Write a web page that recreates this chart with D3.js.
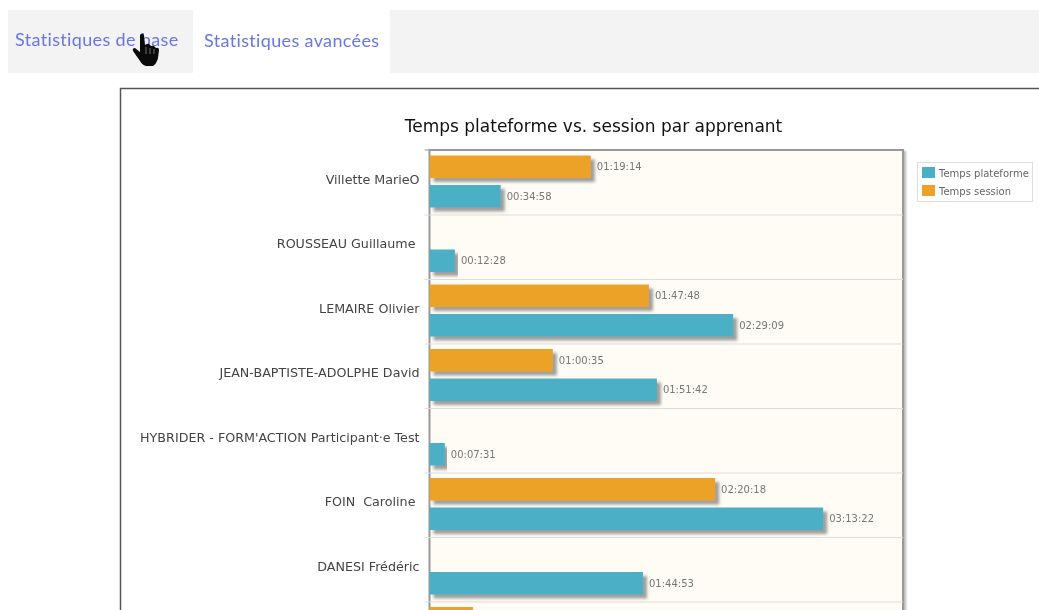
<!DOCTYPE html>
<html>
<head>
<meta charset="utf-8">
<script src="https://cdn.jsdelivr.net/npm/d3@7"></script>
<style>
html, body { margin: 0; padding: 0; background: #fff; overflow: hidden; }
svg { display: block; filter: blur(0.45px); }
text { font-family: "DejaVu Sans", sans-serif; }
.tab { font-family: Lato, sans-serif; font-size: 18px; fill: #6a75e6; letter-spacing: 0.35px; }
.name text { white-space: pre; }
</style>
</head>
<body>
<svg width="1039" height="610"></svg>
<script>
var categories = ["Villette MarieO", "ROUSSEAU Guillaume ", "LEMAIRE Olivier", "JEAN-BAPTISTE-ADOLPHE David",
    "HYBRIDER - FORM'ACTION Participant·e Test", "FOIN  Caroline ", "DANESI Frédéric", ""];
var tempsPlateforme = ["00:34:58", "00:12:28", "02:29:09", "01:51:42", "00:07:31", "03:13:22", "01:44:53", null];
var tempsSession = ["01:19:14", null, "01:47:48", "01:00:35", null, "02:20:18", null, "00:21:20"];
var seriesNames = ["Temps session", "Temps plateforme"];
var seriesColors = ["#eba228", "#4bafc6"];
var legendOrder = ["Temps plateforme", "Temps session"];
var tabLabels = ["Statistiques de base", "Statistiques avancées"];

function seconds(s) {
    var p = s.split(":");
    return +p[0] * 3600 + +p[1] * 60 + +p[2];
}

var svg = d3.select("svg");

var defs = svg.append("defs");
var shadow = defs.append("filter").attr("id", "barShadow")
    .attr("x", "-5%").attr("y", "-20%").attr("width", "115%").attr("height", "170%");
shadow.append("feDropShadow").attr("dx", 4).attr("dy", 4).attr("stdDeviation", 1.8)
    .attr("flood-color", "#777").attr("flood-opacity", 0.7);
var soft = defs.append("filter").attr("id", "plotShadow")
    .attr("x", "-2%").attr("y", "-2%").attr("width", "104%").attr("height", "104%");
soft.append("feDropShadow").attr("dx", 2).attr("dy", 2).attr("stdDeviation", 1)
    .attr("flood-color", "#888").attr("flood-opacity", 0.6);

// tabs
svg.append("rect").attr("x", 8).attr("y", 10).attr("width", 1031).attr("height", 63).attr("fill", "#f3f3f3");
svg.append("rect").attr("x", 193).attr("y", 10).attr("width", 197).attr("height", 63).attr("fill", "#fff");
svg.selectAll(".tab").data(tabLabels).enter().append("text")
    .attr("class", "tab")
    .attr("x", function(d, i) { return i ? 204 : 15; })
    .attr("y", function(d, i) { return i ? 47 : 46; })
    .text(function(d) { return d; });

// hand cursor
var hand = svg.append("g").attr("transform", "translate(132,32)");
hand.append("path").attr("fill", "#0a0a0a")
    .attr("d", "M8 3 Q10 0 12 3 L13 13 L15 12 Q17 11 18 13 L19 14 Q22 13 23 15 L24 16 Q27 15 27 18 L26 26 Q25 31 21 34 L14 34 Q10 33 8 29 L1 19 Q0 16 3 16 L8 20 Z");
hand.append("path").attr("stroke", "#888").attr("stroke-width", 0.8).attr("fill", "none")
    .attr("d", "M14 15V22M18 16V22M22 17V22");

// chart frame
svg.append("rect").attr("x", 120.5).attr("y", 88.5).attr("width", 1000).attr("height", 700)
    .attr("fill", "#fff").attr("stroke", "#555").attr("stroke-width", 1.5);

svg.append("text").attr("x", 593.5).attr("y", 132).attr("text-anchor", "middle")
    .attr("font-size", 17).attr("fill", "#111")
    .text("Temps plateforme vs. session par apprenant");

var plotLeft = 429.5, plotRight = 903, plotTop = 150, rowH = 64.5;

var x = d3.scaleLinear().domain([0, 14000]).range([plotLeft, plotLeft + 475]);
var y = d3.scaleBand().domain(d3.range(categories.length))
    .range([plotTop, plotTop + rowH * categories.length]);
var y1 = d3.scaleBand().domain(seriesNames).range([5.5, 57.5]).paddingInner(0.237);
var color = d3.scaleOrdinal(seriesNames, seriesColors);

var plotH = rowH * categories.length;
svg.append("rect").attr("x", plotLeft).attr("y", plotTop)
    .attr("width", plotRight - plotLeft).attr("height", plotH)
    .attr("fill", "#fffcf5").attr("stroke", "#999").attr("stroke-width", 2)
    .attr("filter", "url(#plotShadow)");

// row separators and the short ticks left of them
var edges = d3.range(1, categories.length).map(function(i) { return y(i); });
svg.selectAll(".sep").data(edges).enter().append("line")
    .attr("x1", plotLeft - 5).attr("x2", plotRight)
    .attr("y1", function(d) { return d + 0.5; }).attr("y2", function(d) { return d + 0.5; })
    .attr("stroke", "#ddd");
svg.append("line").attr("x1", plotLeft - 5).attr("x2", plotLeft)
    .attr("y1", plotTop).attr("y2", plotTop).attr("stroke", "#999");

var names = svg.append("g").attr("class", "name")
    .attr("transform", "translate(" + plotLeft + ",0)")
    .call(d3.axisLeft(y).tickSize(0).tickPadding(10).tickFormat(function(i) { return categories[i]; }));
names.select(".domain").remove();
names.selectAll("text")
    .attr("font-size", 12.7).attr("fill", "#444")
    .attr("font-family", "DejaVu Sans")
    .attr("y", -2.5);

// bars
var rows = [];
categories.forEach(function(c, i) {
    if (tempsSession[i]) rows.push({ row: i, serie: seriesNames[0], label: tempsSession[i] });
    if (tempsPlateforme[i]) rows.push({ row: i, serie: seriesNames[1], label: tempsPlateforme[i] });
});

svg.selectAll(".bar").data(rows).enter().append("rect")
    .attr("class", "bar")
    .attr("x", plotLeft)
    .attr("y", function(d) { return y(d.row) + y1(d.serie); })
    .attr("width", function(d) { return x(seconds(d.label)) - plotLeft; })
    .attr("height", y1.bandwidth())
    .attr("fill", function(d) { return color(d.serie); })
    .attr("filter", "url(#barShadow)");

// the last row runs off the page, its label falls below the window
var labelY = function(d) { return y(d.row) + y1(d.serie) + y1.bandwidth() / 2 + 2.5; };
svg.selectAll(".val").data(rows.filter(function(d) { return labelY(d) < 610; })).enter().append("text")
    .attr("class", "val")
    .attr("x", function(d) { return x(seconds(d.label)) + 6; })
    .attr("y", labelY)
    .attr("dy", "0.1em")
    .attr("font-size", 10).attr("fill", "#777")
    .text(function(d) { return d.label; });

// legend
var legend = svg.append("g").attr("transform", "translate(917,162)");
legend.append("rect").attr("x", 0.5).attr("y", 0.5).attr("width", 115).attr("height", 39)
    .attr("fill", "#fff").attr("stroke", "#ddd");
var item = legend.selectAll(".item").data(legendOrder).enter().append("g")
    .attr("class", "item")
    .attr("transform", function(d, i) { return "translate(5," + (5 + i * 18) + ")"; });
item.append("rect").attr("width", 13).attr("height", 11)
    .attr("fill", function(d) { return color(d); });
item.append("text").attr("x", 17).attr("y", 9.5)
    .attr("font-size", 10).attr("fill", "#666")
    .text(function(d) { return d; });
</script>
</body>
</html>
